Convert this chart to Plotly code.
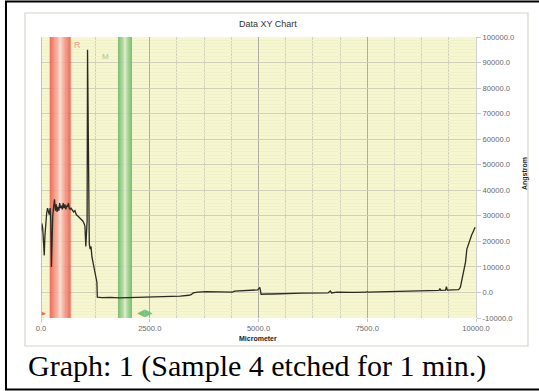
import plotly.graph_objects as go

# ---------------- data ----------------
micrometer = [0, 20, 40, 60, 75, 90, 110, 130, 150, 170, 190, 210, 225, 240, 255, 270, 290, 310,
              330, 350, 370, 390, 410, 430, 450, 470, 490, 510, 530, 550, 570, 590, 610, 630,
              650, 670, 690, 720, 750, 780, 810, 840, 870, 900, 930, 960, 990, 1010, 1030,
              1045, 1060, 1070, 1085, 1095, 1110, 1130, 1150, 1170, 1190, 1210, 1230, 1250,
              1270, 1285, 1295, 1400, 1600, 1800, 2000, 2300, 2600, 2900, 3200, 3400, 3450,
              3500, 3600, 3800, 4000, 4200, 4400, 4450, 4600, 4800, 4900, 4980, 5030, 5060,
              5200, 5300, 5310, 6000, 6400, 6600, 6650, 6680, 6800, 7000, 7200, 7480, 7500,
              7520, 8000, 8500, 9000, 9150, 9170, 9190, 9300, 9320, 9340, 9600, 9640, 9680,
              9720, 9760, 9790, 9830, 9860, 9900, 9940, 9980]
angstrom = [24000, 27000, 25000, 18000, 14500, 22000, 29000, 31000, 33000, 32000, 30500, 33000,
            28000, 10000, 22000, 30000, 33500, 36500, 32000, 34500, 31500, 33500, 32000, 35000,
            33000, 34000, 32500, 35000, 33000, 34500, 32500, 34000, 33500, 35000, 33000, 32500,
            33000, 32000, 31500, 32000, 30500, 30000, 29500, 29000, 28500, 28000, 27000, 26000,
            18000, 25000, 28000, 95000, 60000, 25000, 19000, 17000, 18000, 14000, 12000, 10000,
            9000, 7000, 5500, 4000, -1800, -2000, -1900, -2100, -2000, -1900, -1800, -1600,
            -1400, -1100, -900, -200, 100, 300, 200, 300, 100, 500, 600, 700, 900, 1000, 2000,
            -700, -600, -400, -600, -300, -200, -200, 600, -200, 100, 0, 0, 100, 300, 100, 300,
            500, 700, 800, 1500, 800, 900, 2300, 900, 1100, 2000, 5500, 8000, 12000, 17000,
            19000, 21000, 22500, 24000, 25500]

x_ticks = [0, 2500, 5000, 7500, 10000]
x_tick_labels = ["0.0", "2500.0", "5000.0", "7500.0", "10000.0"]
y_ticks = [-10000, 0, 10000, 20000, 30000, 40000, 50000, 60000, 70000, 80000, 90000, 100000]
y_tick_labels = ["-10000.0", "0.0", "10000.0", "20000.0", "30000.0", "40000.0", "50000.0",
                 "60000.0", "70000.0", "80000.0", "90000.0", "100000.0"]

red_band = [200, 690]
green_band = [1770, 2090]

# ---------------- figure ----------------
fig = go.Figure()
fig.add_trace(go.Scatter(x=micrometer, y=angstrom, mode="lines",
                         line=dict(color="#2a2a22", width=1.3), showlegend=False,
                         hoverinfo="skip"))


def band(x0, x1, edge, center, n=40, power=1.0, opacity=0.88):
    w = (x1 - x0) / n
    edges = [x0 + i * w for i in range(n + 1)]
    z = [[abs(2 * ((i + 0.5) / n) - 1) ** power for i in range(n)]]
    fig.add_trace(go.Heatmap(
        x=edges, y=[-10000, 100000], z=z, zmin=0, zmax=1,
        colorscale=[[0, "rgb(%d,%d,%d)" % center], [1, "rgb(%d,%d,%d)" % edge]],
        showscale=False, hoverinfo="skip", opacity=opacity, zsmooth=False))


band(red_band[0], red_band[1], (240, 88, 72), (250, 226, 214), power=0.8)
band(green_band[0], green_band[1], (104, 182, 98), (232, 243, 212), power=0.7)

shapes = []
# left blue-grey edge
shapes.append(dict(type="line", xref="x", yref="paper", x0=0, x1=0, y0=0, y1=1,
                   line=dict(color="#a9b4d4", width=1.5)))
# inner panel border
shapes.append(dict(type="rect", xref="paper", yref="paper", x0=-0.0368, x1=1.1195,
                   y0=-0.0996, y1=1.0854, line=dict(color="#d6d6cc", width=1.2), layer="below"))
# outer black frame
shapes.append(dict(type="rect", xref="paper", yref="paper", x0=-0.0805, x1=1.1586,
                   y0=-0.2545, y1=1.126, line=dict(color="#000000", width=2)))

annotations = [
    dict(text="Data XY Chart", xref="paper", yref="paper", x=0.522, y=1.046, showarrow=False,
         xanchor="center", yanchor="middle",
         font=dict(family="Liberation Sans, Arial", size=9, color="#333333")),
    dict(text="<b>Micrometer</b>", xref="paper", yref="paper", x=0.499, y=-0.0747, showarrow=False,
         xanchor="center", yanchor="middle",
         font=dict(family="Liberation Sans, Arial", size=7, color="#222222")),
    dict(text="<b>Angstrom</b>", xref="paper", yref="paper", x=1.1126, y=0.516, showarrow=False,
         xanchor="center", yanchor="middle",
         textangle=-90, font=dict(family="Liberation Sans, Arial", size=7, color="#222222")),
    dict(text="R", xref="x", yref="y", x=828, y=96800, showarrow=False,
         xanchor="center", yanchor="middle",
         font=dict(family="Liberation Sans, Arial", size=9, color="#f29a88")),
    dict(text="M", xref="x", yref="y", x=1494, y=92500, showarrow=False,
         xanchor="center", yanchor="middle",
         font=dict(family="Liberation Sans, Arial", size=8, color="#9ccc8c")),
    dict(text="◀▶", xref="x", yref="y", x=2390, y=-8000, showarrow=False,
         xanchor="center", yanchor="middle",
         font=dict(family="DejaVu Sans", size=10, color="#7cc07c")),
    dict(text="▶", xref="x", yref="y", x=60, y=-8000, showarrow=False,
         xanchor="center", yanchor="middle",
         font=dict(family="DejaVu Sans", size=5, color="#f06050")),
    dict(text="Graph: 1 (Sample 4 etched for 1 min.)", xref="paper", yref="paper",
         x=-0.0345, y=-0.170, xanchor="left", yanchor="middle", showarrow=False,
         font=dict(family="Liberation Serif, Times New Roman", size=30, color="#000000")),
]

fig.update_layout(
    width=539, height=391,
    margin=dict(l=41, r=63, t=37, b=73),
    paper_bgcolor="#ffffff",
    plot_bgcolor="#f6f6cf",
    shapes=shapes,
    annotations=annotations,
    xaxis=dict(range=[0, 10000], tickvals=x_ticks, ticktext=x_tick_labels,
               showgrid=True, gridcolor="#adada3", gridwidth=1.2,
               minor=dict(dtick=625, showgrid=True, gridcolor="#d2d2bc", gridwidth=1),
               ticks="outside", ticklen=3, tickcolor="#c8c8c8",
               tickfont=dict(family="Liberation Sans, Arial", size=7.6, color="#666666"),
               zeroline=False, showline=False, fixedrange=True),
    yaxis=dict(range=[-10000, 100000], side="right", tickvals=y_ticks, ticktext=y_tick_labels,
               showgrid=True, gridcolor="#cfcfba", gridwidth=1,
               minor=dict(dtick=1250, showgrid=True, gridcolor="#f0f0cc", gridwidth=1),
               ticks="outside", ticklen=4, tickcolor="#c8c8c8",
               tickfont=dict(family="Liberation Sans, Arial", size=7.6, color="#666666"),
               showline=True, linecolor="#d0d0d0", linewidth=1,
               zeroline=False, fixedrange=True),
)

fig.write_html("out.html", config={"displayModeBar": False},
               post_script="document.body.style.margin='0px';")
